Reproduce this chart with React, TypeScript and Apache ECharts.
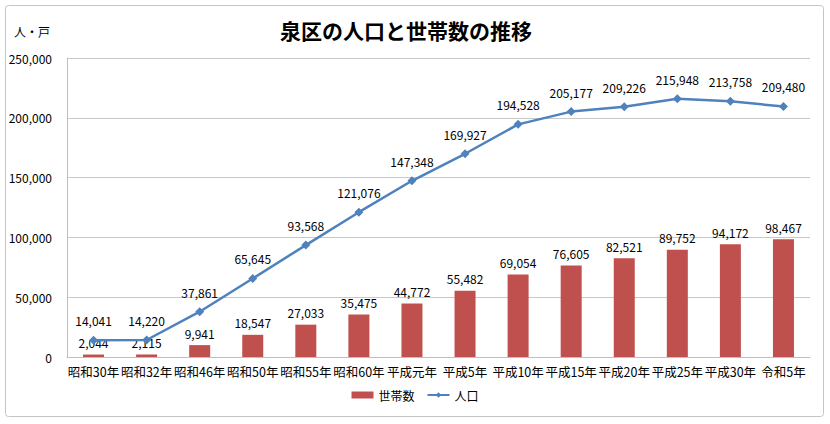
import React, { useEffect, useRef } from "react";
import * as echarts from "echarts";

const categories = ["昭和30年", "昭和32年", "昭和46年", "昭和50年", "昭和55年", "昭和60年", "平成元年", "平成5年", "平成10年", "平成15年", "平成20年", "平成25年", "平成30年", "令和5年"];
const population = [14041, 14220, 37861, 65645, 93568, 121076, 147348, 169927, 194528, 205177, 209226, 215948, 213758, 209480];
const households = [2044, 2115, 9941, 18547, 27033, 35475, 44772, 55482, 69054, 76605, 82521, 89752, 94172, 98467];

const FONT = "'Noto Sans CJK JP', 'Noto Sans', sans-serif";

export default function App() {
  const ref = useRef<HTMLDivElement>(null);
  useEffect(() => {
    if (!ref.current) return;
    const chart = echarts.init(ref.current, undefined, { renderer: "svg" });
    chart.setOption({
      animation: false,
      backgroundColor: "#ffffff",
      textStyle: { fontFamily: FONT },
      title: {
        text: "泉区の人口と世帯数の推移",
        left: 275,
        top: 14,
        textStyle: { fontSize: 21, fontWeight: "bold", color: "#000", fontFamily: FONT },
      },
      graphic: [
        {
          type: "rect",
          shape: { x: 5.5, y: 5.5, width: 818, height: 411, r: 3 },
          style: { fill: "none", stroke: "#c4c4c4", lineWidth: 1 },
          silent: true,
        },
        {
          type: "text",
          x: 14,
          y: 25,
          style: { text: "人・戸", fontSize: 12, fill: "#000", fontFamily: FONT },
        },
      ],
      legend: {
        bottom: 18,
        left: "center",
        itemWidth: 22,
        itemHeight: 7,
        itemGap: 12,
        textStyle: { fontSize: 12, color: "#000", fontFamily: FONT },
        data: [
          { name: "世帯数", icon: "rect" },
          { name: "人口" },
        ],
      },
      grid: { left: 67, right: 20, top: 58, bottom: 67, containLabel: false },
      xAxis: {
        type: "category",
        data: categories,
        axisLine: { lineStyle: { color: "#bfbfbf" } },
        axisTick: { show: false },
        axisLabel: { color: "#000", fontSize: 12.5, margin: 8, interval: 0, fontFamily: FONT },
      },
      yAxis: {
        type: "value",
        min: 0,
        max: 250000,
        interval: 50000,
        axisLine: { show: true, lineStyle: { color: "#bfbfbf" } },
        axisTick: { show: false },
        splitLine: { lineStyle: { color: "#c8c8c8" } },
        axisLabel: {
          color: "#000",
          fontSize: 12,
          margin: 15,
          fontFamily: FONT,
          formatter: (v: number) => v.toLocaleString("en-US"),
        },
      },
      series: [
        {
          name: "世帯数",
          type: "bar",
          data: households,
          barWidth: 21,
          itemStyle: { color: "#C0504D" },
          label: {
            show: true,
            position: "top",
            distance: 6,
            color: "#000",
            fontSize: 12,
            fontFamily: FONT,
            formatter: (p: any) => Number(p.value).toLocaleString("en-US"),
          },
        },
        {
          name: "人口",
          type: "line",
          data: population,
          symbol: "diamond",
          symbolSize: 9,
          lineStyle: { color: "#4F81BD", width: 2.5 },
          itemStyle: { color: "#4F81BD" },
          label: {
            show: true,
            position: "top",
            distance: 9,
            color: "#000",
            fontSize: 12,
            fontFamily: FONT,
            formatter: (p: any) => Number(p.value).toLocaleString("en-US"),
          },
        },
      ],
    });
    return () => chart.dispose();
  }, []);
  return (
    <div
      ref={ref}
      style={{ position: "fixed", left: 0, top: 0, width: 830, height: 424 }}
    />
  );
}
